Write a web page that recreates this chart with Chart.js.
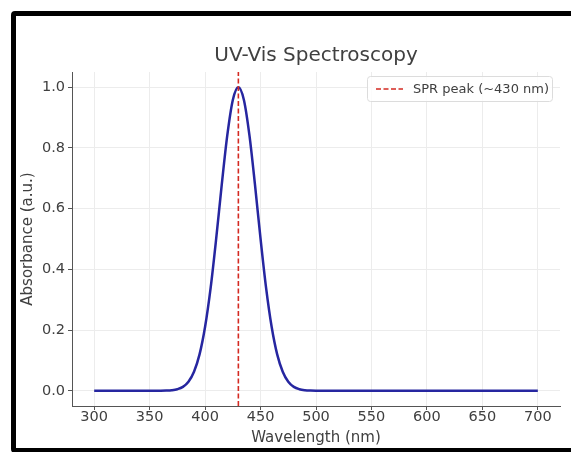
<!DOCTYPE html>
<html>
<head>
<meta charset="utf-8">
<script src="https://cdn.jsdelivr.net/npm/chart.js@4/dist/chart.umd.min.js"></script>
<style>
  html, body { margin: 0; padding: 0; background: #ffffff; overflow: hidden; }
  #wrap { position: relative; width: 571px; height: 452px; }
  #c { position: absolute; left: 0; top: 0; }
  #frame { position: absolute; left: 11px; top: 11px; width: 620px; height: 442px;
           border: 5px solid #000; border-radius: 4px; box-sizing: border-box; pointer-events: none; }
</style>
</head>
<body>
<div id="wrap">
  <canvas id="c" width="571" height="452"></canvas>
  <div id="frame"></div>
</div>
<script>
// ---- data ----
const wavelengths = [300, 320, 340, 350, 360, 365, 370, 375, 380, 385, 390, 395, 400, 405, 410, 415, 420, 425, 430,
                     435, 440, 445, 450, 455, 460, 465, 470, 475, 480, 485, 490, 495, 500, 510, 520, 550, 600, 650, 700];
const absorbance  = [0, 0, 0, 0, 0.0002, 0.0007, 0.002, 0.0053, 0.013, 0.03, 0.063, 0.12, 0.211, 0.339, 0.501, 0.678, 0.841, 0.958, 1.0,
                     0.958, 0.841, 0.678, 0.501, 0.339, 0.211, 0.12, 0.063, 0.03, 0.013, 0.0053, 0.002, 0.0007, 0.0002, 0, 0, 0, 0, 0, 0];
const peakWavelength = 430;
const peakLineY = [-0.05, 1.05];
const xTicks = [300, 350, 400, 450, 500, 550, 600, 650, 700];
const yTicks = [0.0, 0.2, 0.4, 0.6, 0.8, 1.0];
const titleText = "UV-Vis Spectroscopy";
const xLabel = "Wavelength (nm)";
const yLabel = "Absorbance (a.u.)";
const legendLabel = "SPR peak (~430 nm)";

const FONT = "'DejaVu Sans', sans-serif";
const TXT = "#404040";
const RED = "#d42a22";
const BLUE = "#2626a0";

const curve = wavelengths.map((w, i) => ({ x: w, y: absorbance[i] }));
const peakLine = peakLineY.map(v => ({ x: peakWavelength, y: v }));

const legendPlugin = {
  id: 'insideLegend',
  afterDraw(chart) {
    const ctx = chart.ctx;
    const x0 = 367, y0 = 76, w = 185, h = 25;
    ctx.save();
    ctx.fillStyle = 'rgba(255,255,255,0.85)';
    ctx.strokeStyle = '#dcdcdc';
    ctx.lineWidth = 1;
    ctx.beginPath();
    ctx.roundRect(x0 + 0.5, y0 + 0.5, w, h, 3);
    ctx.fill();
    ctx.stroke();
    ctx.strokeStyle = RED;
    ctx.lineWidth = 1.6;
    ctx.setLineDash([5, 2.5]);
    ctx.beginPath();
    ctx.moveTo(376, y0 + h / 2 + 0.5);
    ctx.lineTo(403, y0 + h / 2 + 0.5);
    ctx.stroke();
    ctx.setLineDash([]);
    ctx.fillStyle = TXT;
    ctx.font = "13px " + FONT;
    ctx.textBaseline = 'middle';
    ctx.fillText(legendLabel, 413, y0 + h / 2 + 1);
    ctx.restore();
  }
};

new Chart(document.getElementById('c'), {
  type: 'line',
  data: {
    datasets: [
      { label: legendLabel, data: peakLine, borderColor: RED, borderWidth: 1.6, borderDash: [5, 2.5],
        pointRadius: 0, fill: false, order: 0 },
      { label: 'Absorbance', data: curve, borderColor: BLUE, borderWidth: 2.5, pointRadius: 0,
        cubicInterpolationMode: 'monotone', fill: false, order: 1 }
    ]
  },
  options: {
    responsive: false,
    animation: false,
    layout: { padding: { left: 16, right: 11, top: 0, bottom: 3 } },
    plugins: {
      legend: { display: false },
      tooltip: { enabled: false },
      title: {
        display: true, text: titleText, fullSize: false, color: TXT,
        font: { family: FONT, size: 20, weight: 'normal' },
        padding: { top: 44, bottom: 4 }
      }
    },
    scales: {
      x: {
        type: 'linear', min: 280, max: 720,
        afterBuildTicks: s => { s.ticks = xTicks.map(v => ({ value: v })); },
        afterFit: s => { s.height = 43; },
        grid: { color: '#ececec', lineWidth: 1, tickLength: 4, tickColor: '#555' },
        border: { color: '#555', width: 1 },
        ticks: { color: TXT, font: { family: FONT, size: 14.5 }, padding: -1, maxRotation: 0 },
        title: { display: true, text: xLabel, color: TXT, font: { family: FONT, size: 15 }, padding: { top: 2, bottom: 2 } }
      },
      y: {
        type: 'linear', min: -0.05, max: 1.05,
        afterBuildTicks: s => { s.ticks = yTicks.map(v => ({ value: v })); },
        afterFit: s => { s.width = 56; },
        grid: { color: '#ececec', lineWidth: 1, tickLength: 4, tickColor: '#555' },
        border: { color: '#555', width: 1 },
        ticks: { color: TXT, font: { family: FONT, size: 14.5 }, padding: 3, callback: v => v.toFixed(1) },
        title: { display: true, text: yLabel, color: TXT, font: { family: FONT, size: 15 }, padding: { top: 3, bottom: 0 } }
      }
    }
  },
  plugins: [legendPlugin]
});
</script>
</body>
</html>
